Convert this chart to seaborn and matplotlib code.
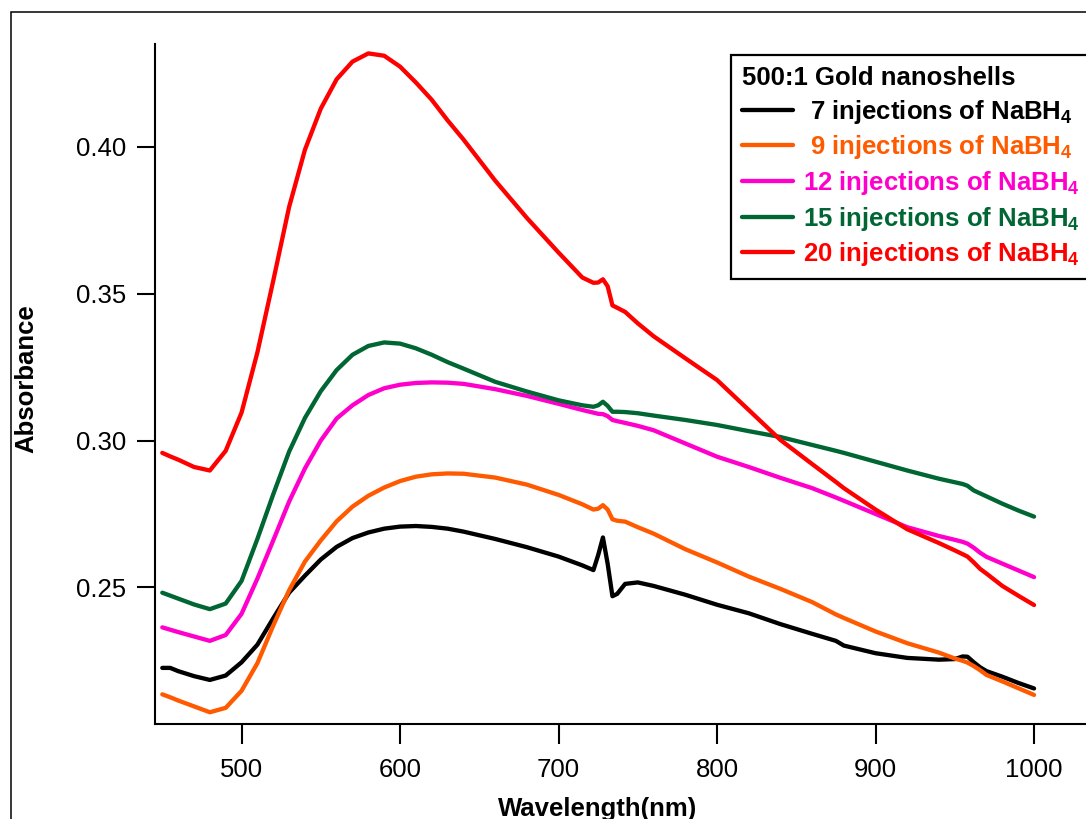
import matplotlib
matplotlib.use("Agg")
import matplotlib.pyplot as plt
from matplotlib.patches import Rectangle
from matplotlib.lines import Line2D
from matplotlib.ticker import FormatStrFormatter
import pandas as pd
import seaborn as sns

# UV-Vis spectra of 500:1 gold nanoshells after successive NaBH4 injections
wavelength = [450, 455, 460, 470, 480, 490, 500, 510, 520, 530, 540, 550, 560,
              570, 580, 590, 600, 610, 620, 630, 640, 660, 680, 700, 715, 722,
              725, 728, 731, 734, 737, 742, 750, 760, 780, 800, 820, 840, 860,
              875, 880, 900, 920, 940, 950, 955, 958, 962, 966, 970, 980, 990,
              1000]

abs_7 = [0.2226, 0.2226, 0.2215, 0.2198, 0.2185, 0.2200, 0.2245, 0.2305, 0.2395,
         0.2482, 0.2540, 0.2595, 0.2638, 0.2668, 0.2687, 0.2700, 0.2707, 0.2709,
         0.2706, 0.2700, 0.2690, 0.2665, 0.2637, 0.2605, 0.2575, 0.2559, 0.2610,
         0.2670, 0.2580, 0.2470, 0.2478, 0.2512, 0.2517, 0.2505, 0.2475, 0.2441,
         0.2412, 0.2375, 0.2342, 0.2318, 0.2302, 0.2276, 0.2260, 0.2254, 0.2256,
         0.2265, 0.2264, 0.2245, 0.2228, 0.2215, 0.2196, 0.2175, 0.2156]

abs_9 = [0.2136, 0.2126, 0.2115, 0.2095, 0.2075, 0.2090, 0.2148, 0.2242, 0.2370,
         0.2490, 0.2588, 0.2660, 0.2725, 0.2775, 0.2812, 0.2840, 0.2862, 0.2877,
         0.2885, 0.2888, 0.2887, 0.2874, 0.2850, 0.2815, 0.2783, 0.2765, 0.2768,
         0.2780, 0.2765, 0.2732, 0.2727, 0.2724, 0.2705, 0.2683, 0.2630, 0.2585,
         0.2537, 0.2495, 0.2450, 0.2408, 0.2396, 0.2350, 0.2310, 0.2278, 0.2258,
         0.2250, 0.2244, 0.2232, 0.2218, 0.2202, 0.2180, 0.2157, 0.2134]

abs_12 = [0.2364, 0.2356, 0.2348, 0.2333, 0.2318, 0.2338, 0.2410, 0.2530, 0.2660,
          0.2792, 0.2905, 0.3000, 0.3075, 0.3120, 0.3155, 0.3178, 0.3190, 0.3196,
          0.3198, 0.3197, 0.3193, 0.3175, 0.3152, 0.3125, 0.3104, 0.3095, 0.3091,
          0.3090, 0.3083, 0.3070, 0.3066, 0.3060, 0.3050, 0.3035, 0.2990, 0.2945,
          0.2910, 0.2873, 0.2838, 0.2806, 0.2795, 0.2750, 0.2705, 0.2675, 0.2662,
          0.2655, 0.2649, 0.2635, 0.2618, 0.2604, 0.2581, 0.2558, 0.2535]

abs_15 = [0.2482, 0.2472, 0.2462, 0.2442, 0.2426, 0.2445, 0.2522, 0.2665, 0.2817,
          0.2962, 0.3077, 0.3168, 0.3240, 0.3292, 0.3322, 0.3334, 0.3330, 0.3314,
          0.3292, 0.3267, 0.3245, 0.3200, 0.3167, 0.3137, 0.3120, 0.3115, 0.3120,
          0.3132, 0.3118, 0.3098, 0.3098, 0.3097, 0.3093, 0.3085, 0.3070, 0.3053,
          0.3032, 0.3012, 0.2985, 0.2965, 0.2958, 0.2928, 0.2898, 0.2870, 0.2858,
          0.2852, 0.2846, 0.2830, 0.2820, 0.2810, 0.2785, 0.2762, 0.2741]

abs_20 = [0.2958, 0.2946, 0.2935, 0.2910, 0.2898, 0.2965, 0.3095, 0.3300, 0.3544,
          0.3795, 0.3990, 0.4130, 0.4230, 0.4290, 0.4318, 0.4310, 0.4273, 0.4219,
          0.4160, 0.4090, 0.4025, 0.3885, 0.3758, 0.3640, 0.3555, 0.3537, 0.3538,
          0.3549, 0.3525, 0.3460, 0.3452, 0.3438, 0.3399, 0.3355, 0.3280, 0.3206,
          0.3104, 0.3002, 0.2920, 0.2859, 0.2838, 0.2765, 0.2698, 0.2651, 0.2626,
          0.2613, 0.2605, 0.2585, 0.2563, 0.2547, 0.2505, 0.2472, 0.2440]

injections = [7, 9, 12, 15, 20]
series = [abs_7, abs_9, abs_12, abs_15, abs_20]
colors = ["#000000", "#FF5A00", "#FF00CC", "#006633", "#FF0000"]
series_names = [f"{n} injections of NaBH4" for n in injections]
legend_labels = [(" " if n < 10 else "") + f"{n} injections of NaBH$_{{4}}$"
                 for n in injections]
legend_title = "500:1 Gold nanoshells"
xticks = [500, 600, 700, 800, 900, 1000]
yticks = [0.25, 0.30, 0.35, 0.40]

df = pd.concat(
    [pd.DataFrame({"Wavelength": wavelength, "Absorbance": vals, "Series": name})
     for name, vals in zip(series_names, series)],
    ignore_index=True,
)

sns.set_theme(style="white")
plt.rcParams["font.family"] = ["Liberation Sans", "DejaVu Sans"]
plt.rcParams["text.color"] = "black"
plt.rcParams["mathtext.fontset"] = "custom"
plt.rcParams["mathtext.rm"] = "Liberation Sans:bold"
plt.rcParams["mathtext.bf"] = "Liberation Sans:bold"
plt.rcParams["mathtext.it"] = "Liberation Sans:bold"
plt.rcParams["mathtext.default"] = "bf"

W, H = 1086, 819
fig = plt.figure(figsize=(W / 100, H / 100), dpi=100)
fig.patch.set_facecolor("white")
ax = fig.add_axes([155 / W, 95 / H, 935 / W, 680 / H])
ax.set_facecolor("white")

sns.lineplot(data=df, x="Wavelength", y="Absorbance", hue="Series",
             hue_order=series_names, palette=dict(zip(series_names, colors)),
             estimator=None, linewidth=3.1, legend=False, ax=ax)

ax.set_xlim(445.4, 1035.3)
ax.set_ylim(0.2035, 0.4350)
ax.set_xticks(xticks)
ax.set_yticks(yticks)
ax.yaxis.set_major_formatter(FormatStrFormatter("%.2f"))

for side in ("top", "right"):
    ax.spines[side].set_visible(False)
for side in ("left", "bottom"):
    ax.spines[side].set_color("black")
    ax.spines[side].set_linewidth(1.5)

ax.tick_params(axis="both", which="major", direction="out", bottom=True,
               left=True, color="black", width=1.5, labelsize=18.5,
               labelcolor="black")
ax.tick_params(axis="y", length=13, pad=8)
ax.tick_params(axis="x", length=14.5, pad=10)

ax.set_xlabel("Wavelength(nm)", fontsize=18.5, fontweight="bold", color="black")
ax.set_ylabel("Absorbance", fontsize=18.5, fontweight="bold", color="black")
ax.xaxis.set_label_coords((598 - 155) / 935, -0.108)
ax.yaxis.set_label_coords((38 - 155) / 935, 0.5074)

# legend box runs past the right edge of the canvas
handles = [Line2D([], [], color=c, lw=3.1) for c in colors]
box_top = 1 - 55 / H
leg = ax.legend(handles, legend_labels, title=legend_title,
                loc="upper left", mode="expand",
                bbox_to_anchor=(731 / W, 0.4, 380 / W, box_top - 0.4),
                bbox_transform=fig.transFigure, borderaxespad=0,
                frameon=True, fancybox=False, shadow=False, framealpha=1,
                edgecolor="black", alignment="left",
                prop={"weight": "bold", "size": 18.5},
                title_fontproperties={"weight": "bold", "size": 18.5},
                handlelength=2.0, handletextpad=0.4, labelspacing=0.3,
                borderpad=0.42)
leg.get_frame().set_linewidth(1.6)
leg.get_title().set_color("black")
for txt, c in zip(leg.get_texts(), colors):
    txt.set_color(c)

# outer frame around the whole graphic
fig.add_artist(Rectangle((11 / W, -0.2), 1.5, 0.2 + 1 - 12 / H,
                         transform=fig.transFigure, fill=False,
                         edgecolor="black", linewidth=1.1))

fig.savefig("out.png", dpi=100, facecolor="white")
